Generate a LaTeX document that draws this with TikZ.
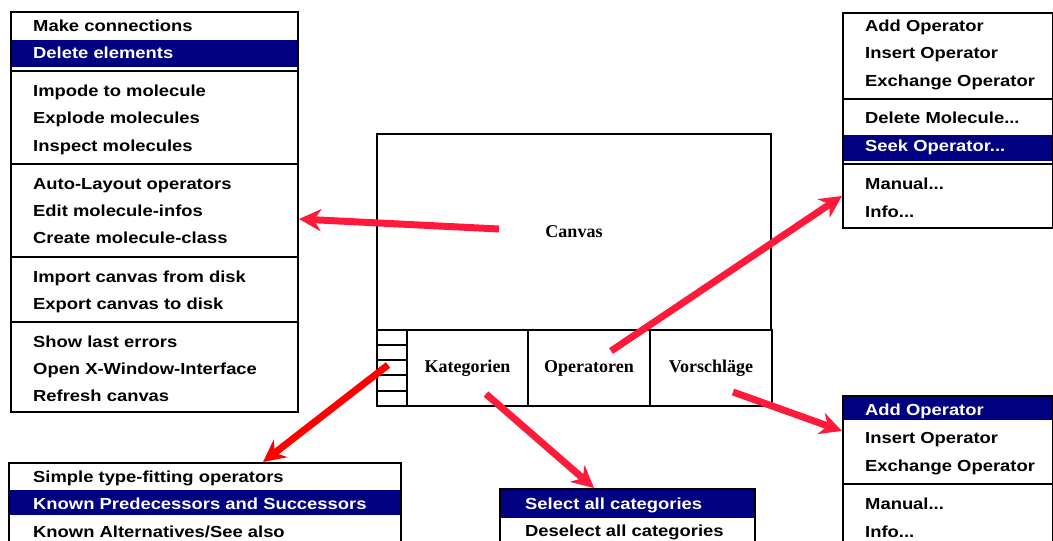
\documentclass[tikz,border=0pt]{standalone}
\usepackage{fontspec}
\usepackage{xcolor}
\usepackage{tikz}
\usetikzlibrary{arrows.meta}
\newfontfamily\menufont{Liberation Sans}[FakeStretch=1.15]
\newfontfamily\labelfont{Liberation Serif}
\definecolor{menublue}{HTML}{000080}
\definecolor{pfeilrot}{HTML}{FF1A3C}
\definecolor{pfeilrein}{HTML}{FF0000}
\tikzset{
  menu/.style={draw, line width=2pt, anchor=north west, inner sep=0pt},
  item/.style={anchor=west, inner sep=0pt, text height=11.5pt, text depth=0pt,
    font=\menufont\bfseries\fontsize{16}{16}\selectfont},
  itemsel/.style={item, text=white},
  sel/.style={fill=menublue},
  trenn/.style={line width=1.5pt},
  cell/.style={draw, line width=2pt, inner sep=0pt,
    font=\labelfont\bfseries\fontsize{18}{18}\selectfont},
  pfeil/.style={line width=7pt, pfeilrot, -{Stealth[length=22pt, width=22pt, inset=7pt]}},
}

\begin{document}
\begin{tikzpicture}[x=1pt, y=-1pt]
    \useasboundingbox (0,0) rectangle (1053,541);
    %SELECTED ENTRIES
    \fill[sel] (10,40) rectangle (297,67);
    \fill[sel] (842,135) rectangle (1052,161);
    \fill[sel] (842,395) rectangle (1052,420);
    \fill[sel] (8,490) rectangle (400,515);
    \fill[sel] (499,488) rectangle (754,518);
    %MENU CANVAS
    \node[menu, minimum width=287pt, minimum height=400pt] (canvasmenu) at (10,11) {};
        \draw[trenn] (10,71) -- (297,71);
        \draw[trenn] (10,164) -- (297,164);
        \draw[trenn] (10,257) -- (297,257);
        \draw[trenn] (10,322) -- (297,322);
    \node[item] (cm1) at (33,26) {Make connections};
    \node[itemsel] (cm2) at (33,53) {Delete elements};
    \node[item] (cm3) at (33,91) {Impode to molecule};
    \node[item] (cm4) at (33,118) {Explode molecules};
    \node[item] (cm5) at (33,146) {Inspect molecules};
    \node[item] (cm6) at (33,184) {Auto-Layout operators};
    \node[item] (cm7) at (33,211) {Edit molecule-infos};
    \node[item] (cm8) at (33,238) {Create molecule-class};
    \node[item] (cm9) at (33,277) {Import canvas from disk};
    \node[item] (cm10) at (33,304) {Export canvas to disk};
    \node[item] (cm11) at (33,342) {Show last errors};
    \node[item] (cm12) at (33,369) {Open X-Window-Interface};
    \node[item] (cm13) at (33,396) {Refresh canvas};
    %MENU OPERATOREN
    \node[menu, minimum width=210pt, minimum height=215pt] (opsmenu) at (842,12) {};
        \draw[trenn] (842,99) -- (1052,99);
        \draw[trenn] (842,164) -- (1052,164);
    \node[item] (om1) at (865,26) {Add Operator};
    \node[item] (om2) at (865,53) {Insert Operator};
    \node[item] (om3) at (865,81) {Exchange Operator};
    \node[item] (om4) at (865,118) {Delete Molecule...};
    \node[itemsel] (om5) at (865,146) {Seek Operator...};
    \node[item] (om6) at (865,184) {Manual...};
    \node[item] (om7) at (865,212) {Info...};
    %MENU VORSCHLAEGE
    \node[menu, minimum width=210pt, minimum height=160pt] (vormenu) at (842,395) {};
        \draw[trenn] (842,484) -- (1052,484);
    \node[itemsel] (vm1) at (865,410) {Add Operator};
    \node[item] (vm2) at (865,438) {Insert Operator};
    \node[item] (vm3) at (865,466) {Exchange Operator};
    \node[item] (vm4) at (865,504) {Manual...};
    \node[item] (vm5) at (865,532) {Info...};
    %MENU KATEGORIEN (LINKS)
    \node[menu, minimum width=392pt, minimum height=100pt] (katmenu) at (8,462) {};
    \node[item] (km1) at (33,477) {Simple type-fitting operators};
    \node[itemsel] (km2) at (33,504) {Known Predecessors and Successors};
    \node[item] (km3) at (33,532) {Known Alternatives/See also};
    %MENU KATEGORIEN (MITTE)
    \node[menu, minimum width=255pt, minimum height=80pt] (selmenu) at (499,488) {};
    \node[itemsel] (sm1) at (525,504) {Select all categories};
    \node[item] (sm2) at (525,531) {Deselect all categories};
    %FENSTER
    \node[cell, minimum width=394pt, minimum height=196pt] (canvas) at (574,232) {Canvas};
    \node[cell, minimum width=121pt, minimum height=76pt] (kat) at (467.5,368) {Kategorien};
    \node[cell, minimum width=122pt, minimum height=76pt] (ops) at (589,368) {Operatoren};
    \node[cell, minimum width=122pt, minimum height=76pt] (vor) at (711,368) {Vorschläge};
    \draw[line width=2pt] (377,330) rectangle (407,406);
        \draw[line width=2pt] (377,345) -- (407,345);
        \draw[line width=2pt] (377,360) -- (407,360);
        \draw[line width=2pt] (377,375) -- (407,375);
        \draw[line width=2pt] (377,391) -- (407,391);
    %PFEILE
    \coordinate (q1) at (499,229);
    \coordinate (q2) at (611,351);
    \coordinate (q3) at (388,365);
    \coordinate (q4) at (486,394);
    \coordinate (q5) at (733,392);
    \draw[pfeil] (q1) -- ([yshift=-7pt]canvasmenu.east);
    \draw[pfeil] (q2) -- ([yshift=33pt]opsmenu.south west);
    \draw[pfeil, pfeilrein] (q3) -- ([xshift=58pt]katmenu.north);
    \draw[pfeil] (q4) -- ([xshift=-33.5pt]selmenu.north);
    \draw[pfeil] (q5) -- ([yshift=-36pt]vormenu.north west);
\end{tikzpicture}
\end{document}
